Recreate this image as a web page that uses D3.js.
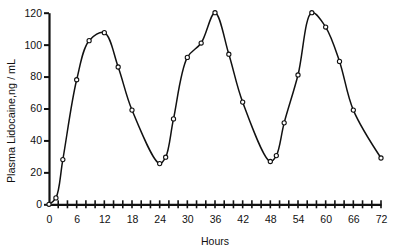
<!DOCTYPE html>
<html>
<head>
<meta charset="utf-8">
<script src="https://cdn.jsdelivr.net/npm/d3@7"></script>
<style>
  body { margin: 0; background: #fff; }
  text { font-family: "Liberation Sans", Arial, sans-serif; fill: #111; }
</style>
</head>
<body>
<div id="chart"></div>
<script>
// hours after start, and plasma lidocaine level
const hours = [0, 1.5, 3, 6, 8.7, 12, 15, 18, 24, 25.3, 27, 30, 33, 36, 39, 42, 48, 49.3, 51, 54, 57, 60, 63, 66, 72];
const lidocaine = [0, 4, 28, 78, 102.5, 107.5, 86, 59, 25.5, 29.5, 53.5, 92, 101, 120, 94, 64, 26.8, 30.5, 51, 81, 120, 111, 89.5, 59, 29];
const xTicks = d3.range(0, 73, 6);
const yTicks = [0, 20, 40, 60, 80, 100, 120];

const margin = {top: 12.7, right: 19, bottom: 45.7, left: 49},
    width = 400 - margin.left - margin.right,
    height = 250 - margin.top - margin.bottom;

const svg = d3.select("#chart")
  .append("svg")
    .attr("width", 400)
    .attr("height", 250)
  .append("g")
    .attr("transform", `translate(${margin.left},${margin.top})`);

const x = d3.scaleLinear().domain([0, 72]).range([0, width]);
const y = d3.scaleLinear().domain([0, 120]).range([height, 0]);

const data = hours.map((h, i) => ({h: h, v: lidocaine[i]}));

// y axis
const yAxis = svg.append("g")
  .call(d3.axisLeft(y).tickValues(yTicks).tickSize(5).tickPadding(2).tickSizeOuter(0));
yAxis.select(".domain").attr("stroke", "#111").attr("stroke-width", 2.2);
yAxis.selectAll(".tick line").attr("stroke", "#111").attr("stroke-width", 2);
yAxis.selectAll("text").style("font-size", "10.5px");

// x axis: ticks every 2 hours crossing the line, labels every 6
const xAxis = svg.append("g")
  .attr("transform", `translate(0,${height})`)
  .call(d3.axisBottom(x).tickValues(xTicks).tickSize(0).tickPadding(11));
xAxis.select(".domain").attr("stroke", "#111").attr("stroke-width", 2.2);
xAxis.selectAll("text").style("font-size", "10.5px");

svg.append("g")
  .selectAll("line")
  .data(d3.range(2, 73, 2))
  .join("line")
    .attr("x1", d => x(d))
    .attr("x2", d => x(d))
    .attr("y1", height - 4)
    .attr("y2", height + 4)
    .attr("stroke", "#111")
    .attr("stroke-width", 1.6);

// curve
const line = d3.line()
  .x(d => x(d.h))
  .y(d => y(d.v))
  .curve(d3.curveCatmullRom.alpha(0.5));

svg.append("path")
  .datum(data)
  .attr("fill", "none")
  .attr("stroke", "#111")
  .attr("stroke-width", 1.5)
  .attr("d", line);

svg.selectAll("circle")
  .data(data)
  .join("circle")
    .attr("cx", d => x(d.h))
    .attr("cy", d => y(d.v))
    .attr("r", 2.1)
    .attr("fill", "#fff")
    .attr("stroke", "#111")
    .attr("stroke-width", 1.1);

// labels
svg.append("text")
  .attr("x", width / 2)
  .attr("y", height + 41)
  .attr("text-anchor", "middle")
  .style("font-size", "10.5px")
  .text("Hours");

svg.append("text")
  .attr("transform", `translate(${-34},${height / 2 + 12.5}) rotate(-90)`)
  .attr("text-anchor", "middle")
  .style("font-size", "10.8px")
  .text("Plasma Lidocaine,ng / mL");
</script>
</body>
</html>
